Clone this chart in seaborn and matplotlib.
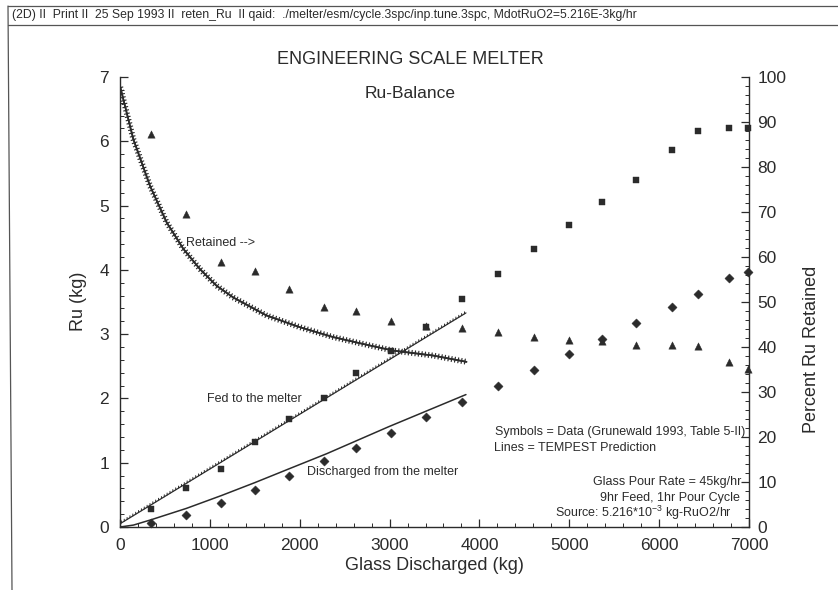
import matplotlib
matplotlib.use("Agg")
import matplotlib.pyplot as plt
import matplotlib.patheffects as pe
from matplotlib.lines import Line2D
from matplotlib.ticker import MultipleLocator
import seaborn as sns

# Measured data (Grunewald 1993, Table 5-II)
glass_kg = [350, 740, 1120, 1500, 1885, 2265, 2630, 3020, 3410, 3805,
            4205, 4605, 5000, 5365, 5745, 6145, 6435, 6780, 6990]
fed_kg = [0.275, 0.60, 0.90, 1.33, 1.68, 2.00, 2.39, 2.74, 3.11, 3.54,
          3.93, 4.32, 4.70, 5.06, 5.40, 5.86, 6.16, 6.21, 6.21]
discharged_kg = [0.06, 0.19, 0.38, 0.58, 0.79, 1.02, 1.23, 1.47, 1.71, 1.94,
                 2.19, 2.45, 2.69, 2.93, 3.17, 3.43, 3.62, 3.87, 3.96]
retained_pct = [87.3, 69.6, 58.8, 56.8, 52.9, 48.8, 48.1, 45.8, 44.7, 44.2,
                43.3, 42.3, 41.6, 41.4, 40.4, 40.4, 40.2, 36.6, 35.1]

# TEMPEST prediction curves
fed_line_x = [0, 3850]
fed_line_kg = [0.05, 3.33]
dis_line_x = [0, 150, 340, 740, 1130, 1500, 1890, 2300, 2990, 3850]
dis_line_kg = [0.0, 0.03, 0.11, 0.29, 0.49, 0.69, 0.91, 1.14, 1.56, 2.06]
ret_line_x = [0, 148, 334, 519, 705, 890, 1075, 1261, 1631, 2002, 2373,
              2744, 3040, 3485, 3856]
ret_line_pct = [98.0, 86.2, 75.8, 67.7, 61.8, 57.3, 53.6, 51.0, 47.0, 44.4,
                42.2, 40.5, 39.2, 38.1, 36.7]

sns.set_style("ticks")
plt.rcParams["font.family"] = ["Liberation Sans", "DejaVu Sans"]
plt.rcParams["mathtext.fontset"] = "custom"
plt.rcParams["mathtext.rm"] = "Liberation Sans"
plt.rcParams["mathtext.default"] = "rm"

INK = "#2b2b2b"
W, H = 838, 590

fig = plt.figure(figsize=(W / 100, H / 100), dpi=100)
fig.patch.set_facecolor("white")


def fx(px):
    return px / W


def fy(py):
    return 1 - py / H


ax = fig.add_axes([fx(120), fy(527), fx(749) - fx(120), fy(77) - fy(527)])
ax2 = ax.twinx()

# Prediction lines (kg, left axis)
sns.lineplot(x=fed_line_x, y=fed_line_kg, ax=ax, color=INK, lw=0.9,
             path_effects=[pe.withTickedStroke(spacing=2.4, angle=60, length=0.6, linewidth=0.7)])
sns.lineplot(x=dis_line_x, y=dis_line_kg, ax=ax, color=INK, lw=1.1)

# Retained prediction (percent, right axis)
sns.lineplot(x=ret_line_x, y=ret_line_pct, ax=ax2, color=INK, lw=1.2,
             path_effects=[pe.withTickedStroke(spacing=2.4, angle=90, length=0.75, linewidth=0.85),
                           pe.withTickedStroke(spacing=2.4, angle=-90, length=0.75, linewidth=0.85)])

# Measured symbols
sns.scatterplot(x=glass_kg, y=fed_kg, ax=ax, marker="s", s=24, color=INK,
                edgecolor=INK, linewidth=0.3, clip_on=False, zorder=5)
sns.scatterplot(x=glass_kg, y=discharged_kg, ax=ax, marker="D", s=22, color=INK,
                edgecolor=INK, linewidth=0.3, clip_on=False, zorder=5)
sns.scatterplot(x=glass_kg, y=retained_pct, ax=ax2, marker="^", s=28, color=INK,
                edgecolor=INK, linewidth=0.3, clip_on=False, zorder=5)

ax.set_xlim(0, 7000)
ax.set_ylim(0, 7)
ax2.set_ylim(0, 100)

ax.xaxis.set_major_locator(MultipleLocator(1000))
ax.xaxis.set_minor_locator(MultipleLocator(200))
ax.yaxis.set_major_locator(MultipleLocator(1))
ax.yaxis.set_minor_locator(MultipleLocator(0.2))
ax2.yaxis.set_major_locator(MultipleLocator(10))
ax2.yaxis.set_minor_locator(MultipleLocator(2))

for a in (ax, ax2):
    a.spines["top"].set_visible(False)
    for s in a.spines.values():
        s.set_color(INK)
        s.set_linewidth(1.0)
ax.spines["right"].set_visible(False)
ax2.spines["left"].set_visible(False)
ax2.spines["bottom"].set_visible(False)

ax.tick_params(axis="both", which="major", direction="in", length=6, width=0.9,
               color=INK, labelcolor=INK, labelsize=12.5, pad=8)
ax.tick_params(axis="both", which="minor", direction="in", length=3, width=0.7, color=INK)
ax2.tick_params(axis="y", which="major", direction="in", length=6, width=0.9,
                color=INK, labelcolor=INK, labelsize=12.5, pad=6)
ax2.tick_params(axis="y", which="minor", direction="in", length=3, width=0.7, color=INK)

ax.set_xlabel("")
ax.set_ylabel("")
ax2.set_ylabel("")

# Axis titles
fig.text(fx(434), fy(565), "Glass Discharged (kg)", ha="center", va="center",
         fontsize=13, color=INK)
fig.text(fx(78), fy(301), "Ru (kg)", ha="center", va="center", rotation=90,
         fontsize=13, color=INK)
fig.text(fx(811), fy(349), "Percent Ru Retained", ha="center", va="center",
         rotation=90, fontsize=13, color=INK)

# Titles
fig.text(fx(410), fy(60), "ENGINEERING SCALE MELTER", ha="center", va="center",
         fontsize=13, color=INK)
fig.text(fx(410), fy(93), "Ru-Balance", ha="center", va="center",
         fontsize=12.5, color=INK)

# Curve labels and notes
note = dict(fontsize=9, color=INK, va="center")
fig.text(fx(186), fy(243), "Retained -->", ha="left", **note)
fig.text(fx(207), fy(399), "Fed to the melter", ha="left", **note)
fig.text(fx(307), fy(472), "Discharged from the melter", ha="left", **note)
fig.text(fx(495), fy(432), "Symbols = Data (Grunewald 1993, Table 5-II)", ha="left", **note)
fig.text(fx(494), fy(448), "Lines = TEMPEST Prediction", ha="left", **note)
fig.text(fx(741), fy(482), "Glass Pour Rate = 45kg/hr", ha="right", **note)
fig.text(fx(740), fy(498), "9hr Feed, 1hr Pour Cycle", ha="right", **note)
fig.text(fx(732), fy(513), "Source: 5.216*10$^{-3}$ kg-RuO2/hr", ha="right", **note)

# Print header bar
fig.text(fx(12), fy(15),
         "(2D) II  Print II  25 Sep 1993 II  reten_Ru  II qaid:  ./melter/esm/cycle.3spc/inp.tune.3spc, MdotRuO2=5.216E-3kg/hr",
         ha="left", va="center", fontsize=8.8, color=INK,
         family=["Liberation Sans Narrow", "Liberation Sans"])
for seg in ([(8, 6), (838, 6)], [(8, 25), (838, 25)], [(8, 6), (12, 590)]):
    (x0, y0), (x1, y1) = seg
    fig.add_artist(Line2D([fx(x0), fx(x1)], [fy(y0), fy(y1)],
                          transform=fig.transFigure, color="#555555", lw=0.9))

fig.savefig("out.png", dpi=100, facecolor="white")
